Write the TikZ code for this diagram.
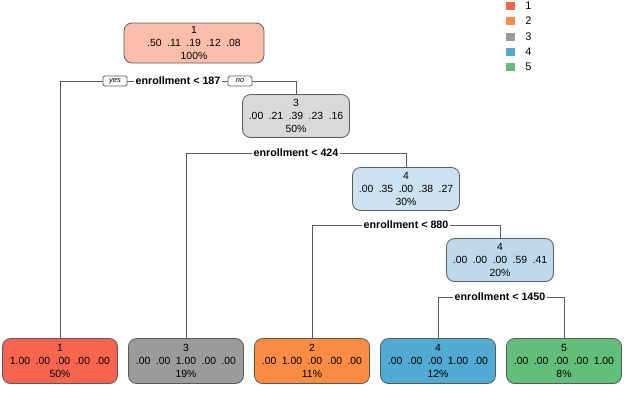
\documentclass[tikz,border=0pt]{standalone}
\usepackage{fontspec}
\setmainfont{Liberation Sans}
\usetikzlibrary{positioning}
\definecolor{cred}{RGB}{248,101,78}
\definecolor{credl}{RGB}{251,190,170}
\definecolor{corange}{RGB}{252,140,68}
\definecolor{cgray}{RGB}{155,155,155}
\definecolor{cgrayl}{RGB}{217,217,217}
\definecolor{cblue}{RGB}{80,170,210}
\definecolor{cbluel}{RGB}{204,226,241}
\definecolor{cbluem}{RGB}{190,216,236}
\definecolor{cgreen}{RGB}{98,190,122}
\definecolor{cline}{RGB}{90,90,90}
\newcommand{\gp}{\hspace{5.5pt}}
\tikzset{
	box/.style={draw=cline, line width=0.8pt, rounded corners=8pt, align=center, inner sep=1pt, font=\fontsize{10.4}{13}\selectfont},
	inbox/.style={box, minimum width=107pt, minimum height=43pt},
	leaf/.style={box, minimum width=115pt, minimum height=45pt},
	split/.style={fill=white, inner sep=1pt, font=\bfseries\fontsize{10.7}{12}\selectfont},
	yn/.style={draw=cline, rounded corners=1.5pt, fill=white, inner sep=1pt, minimum width=24pt, minimum height=10pt, font=\itshape\fontsize{7.5}{8}\selectfont},
	key/.style={minimum width=9pt, minimum height=8pt, inner sep=0pt},
	keytxt/.style={anchor=west, inner sep=0pt, font=\fontsize{11}{12}\selectfont}
}
\begin{document}
\begin{tikzpicture}[x=1pt,y=-1pt,line width=0.8pt]
	\useasboundingbox (0,0) rectangle (627,392);
	% inner nodes
	\node[box, fill=credl, minimum width=140pt, minimum height=40pt] (n1) at (194,43) {1\\.50\gp.11\gp.19\gp.12\gp.08\\100\%};
	\node[inbox, fill=cgrayl] (n3) at (296,116) {3\\.00\gp.21\gp.39\gp.23\gp.16\\50\%};
	\node[inbox, fill=cbluel] (n4) at (406,189) {4\\.00\gp.35\gp.00\gp.38\gp.27\\30\%};
	\node[inbox, fill=cbluem] (n4b) at (500,260) {4\\.00\gp.00\gp.00\gp.59\gp.41\\20\%};
	% leaves
	\node[leaf, fill=cred] (l1) at (60,361) {1\\1.00\gp.00\gp.00\gp.00\gp.00\\50\%};
	\node[leaf, fill=cgray] (l3) at (186,361) {3\\.00\gp.00\gp1.00\gp.00\gp.00\\19\%};
	\node[leaf, fill=corange] (l2) at (312,361) {2\\.00\gp1.00\gp.00\gp.00\gp.00\\11\%};
	\node[leaf, fill=cblue] (l4) at (438,361) {4\\.00\gp.00\gp.00\gp1.00\gp.00\\12\%};
	\node[leaf, fill=cgreen] (l5) at (564,361) {5\\.00\gp.00\gp.00\gp.00\gp1.00\\8\%};
	% splits
	\node[split] (s1) at (178,81) {enrollment < 187};
	\node[yn] (yes) at (115,81) {yes};
	\node[yn] (no) at (240,81) {no};
	\node[split] (s2) at (296,153) {enrollment < 424};
	\node[split] (s3) at (406,225) {enrollment < 880};
	\node[split] (s4) at (500,297) {enrollment < 1450};
	\draw[cline] (s1.west)--(yes.east);
	\draw[cline] (yes.west) -| (l1.north);
	\draw[cline] (s1.east)--(no.west);
	\draw[cline] (no.east) -| (n3.north);
	\draw[cline] (s2.west) -| (l3.north);
	\draw[cline] (s2.east) -| (n4.north);
	\draw[cline] (s3.west) -| (l2.north);
	\draw[cline] (s3.east) -| (n4b.north);
	\draw[cline] (s4.west) -| (l4.north);
	\draw[cline] (s4.east) -| (l5.north);
	% legend
	\foreach \i/\c/\y in {1/cred/6,2/corange/21,3/cgray/37,4/cblue/52,5/cgreen/67}{
		\node[key, fill=\c] (k\i) at (510,\y) {};
		\node[keytxt] (t\i) at (525,\y) {\i};
	}
\end{tikzpicture}
\end{document}
